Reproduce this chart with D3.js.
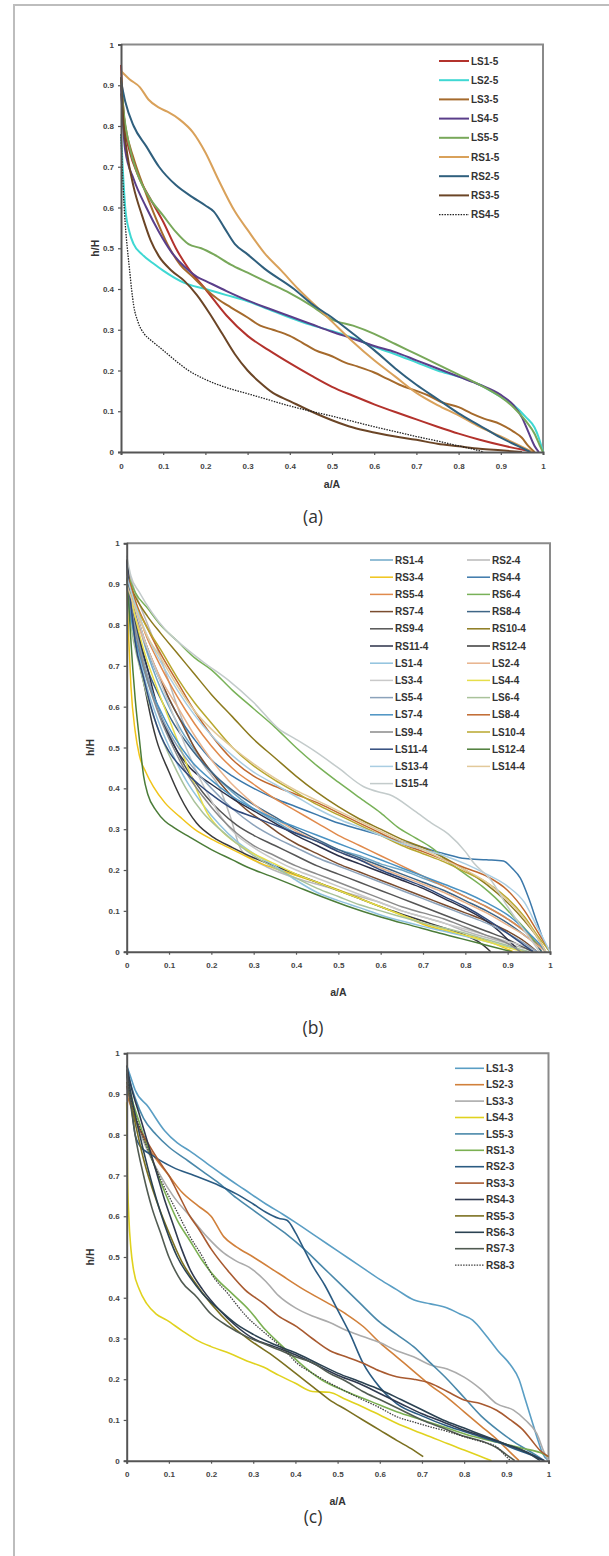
<!DOCTYPE html>
<html>
<head>
<meta charset="utf-8">
<title>h/H vs a/A</title>
<script src="https://cdn.jsdelivr.net/npm/d3@7/dist/d3.min.js"></script>
<style>
  body { margin: 0; background: #fff; }
  .tick text { font-family: "Liberation Sans", Arial, sans-serif; font-weight: bold; font-size: 8px; fill: #444; }
  .lg { font-family: "Liberation Sans", Arial, sans-serif; font-weight: bold; font-size: 10px; fill: #333; }
  .ttl { font-family: "Liberation Sans", Arial, sans-serif; font-weight: bold; font-size: 10.5px; fill: #333; }
  .cap { font-family: "Open Sans", sans-serif; font-size: 17.5px; fill: #333; }
</style>
</head>
<body>
<svg id="fig" width="609" height="1556"></svg>
<script>
// tick values shared by every panel
const xTicks = [0, 0.1, 0.2, 0.3, 0.4, 0.5, 0.6, 0.7, 0.8, 0.9, 1];
const yTicks = [0, 0.1, 0.2, 0.3, 0.4, 0.5, 0.6, 0.7, 0.8, 0.9, 1];

// ---- panel (a): five-storey series ----
const aLS1 = [[0,0.95],[0.005,0.85],[0.01,0.79],[0.02,0.74],[0.04,0.68],[0.07,0.62],[0.1,0.565],[0.13,0.5],[0.16,0.45],[0.2,0.4],[0.25,0.335],[0.3,0.285],[0.35,0.25],[0.4,0.218],[0.45,0.188],[0.5,0.16],[0.55,0.138],[0.6,0.117],[0.65,0.098],[0.7,0.08],[0.75,0.062],[0.8,0.045],[0.85,0.03],[0.9,0.017],[0.95,0.006],[0.98,0]];
const aLS2 = [[0,0.78],[0.005,0.68],[0.01,0.6],[0.02,0.54],[0.03,0.51],[0.05,0.485],[0.08,0.46],[0.1,0.445],[0.15,0.415],[0.2,0.4],[0.25,0.385],[0.3,0.37],[0.35,0.35],[0.4,0.33],[0.45,0.312],[0.5,0.297],[0.55,0.28],[0.6,0.258],[0.65,0.24],[0.7,0.22],[0.75,0.2],[0.8,0.185],[0.85,0.165],[0.9,0.135],[0.93,0.115],[0.96,0.085],[0.98,0.06],[0.99,0.035],[1,0]];
const aLS3 = [[0,0.88],[0.01,0.8],[0.03,0.72],[0.05,0.66],[0.08,0.58],[0.11,0.51],[0.14,0.46],[0.17,0.43],[0.2,0.4],[0.23,0.375],[0.26,0.355],[0.3,0.33],[0.33,0.31],[0.36,0.3],[0.4,0.285],[0.43,0.268],[0.46,0.25],[0.5,0.235],[0.53,0.22],[0.56,0.21],[0.6,0.195],[0.63,0.18],[0.66,0.165],[0.7,0.15],[0.73,0.138],[0.76,0.122],[0.8,0.11],[0.83,0.095],[0.86,0.082],[0.9,0.068],[0.93,0.05],[0.95,0.035],[0.965,0.015],[0.98,0]];
const aLS4 = [[0,0.9],[0.005,0.8],[0.01,0.74],[0.03,0.67],[0.06,0.6],[0.09,0.54],[0.12,0.49],[0.15,0.455],[0.18,0.43],[0.2,0.42],[0.25,0.395],[0.3,0.372],[0.35,0.352],[0.4,0.333],[0.45,0.314],[0.5,0.295],[0.55,0.278],[0.6,0.26],[0.65,0.245],[0.7,0.225],[0.75,0.205],[0.8,0.185],[0.85,0.165],[0.9,0.14],[0.93,0.115],[0.95,0.085],[0.965,0.05],[0.98,0.015],[0.99,0]];
const aLS5 = [[0,0.92],[0.005,0.85],[0.02,0.75],[0.04,0.68],[0.07,0.62],[0.1,0.58],[0.13,0.54],[0.16,0.51],[0.19,0.5],[0.22,0.485],[0.26,0.46],[0.3,0.44],[0.35,0.415],[0.4,0.39],[0.45,0.36],[0.5,0.325],[0.55,0.31],[0.6,0.29],[0.65,0.265],[0.7,0.24],[0.75,0.215],[0.8,0.19],[0.85,0.165],[0.9,0.135],[0.93,0.11],[0.96,0.075],[0.98,0.045],[0.995,0.01],[1,0]];
const aRS1 = [[0,0.935],[0.02,0.915],[0.045,0.895],[0.065,0.865],[0.09,0.845],[0.11,0.835],[0.14,0.815],[0.17,0.785],[0.2,0.735],[0.23,0.67],[0.27,0.59],[0.3,0.545],[0.34,0.488],[0.38,0.445],[0.42,0.4],[0.46,0.36],[0.5,0.32],[0.55,0.27],[0.6,0.225],[0.65,0.185],[0.7,0.145],[0.75,0.115],[0.8,0.09],[0.85,0.062],[0.9,0.038],[0.94,0.018],[0.975,0]];
const aRS2 = [[0,0.91],[0.01,0.86],[0.03,0.8],[0.06,0.75],[0.09,0.7],[0.13,0.655],[0.17,0.625],[0.2,0.605],[0.22,0.59],[0.245,0.55],[0.27,0.51],[0.3,0.485],[0.34,0.45],[0.41,0.4],[0.45,0.365],[0.5,0.33],[0.55,0.29],[0.6,0.25],[0.65,0.205],[0.7,0.165],[0.75,0.13],[0.8,0.095],[0.85,0.065],[0.9,0.035],[0.94,0.015],[0.97,0]];
const aRS3 = [[0,0.92],[0.005,0.82],[0.015,0.73],[0.03,0.65],[0.05,0.58],[0.07,0.52],[0.09,0.48],[0.12,0.445],[0.15,0.42],[0.18,0.385],[0.21,0.34],[0.24,0.29],[0.27,0.24],[0.3,0.2],[0.33,0.17],[0.36,0.145],[0.4,0.125],[0.45,0.1],[0.5,0.078],[0.55,0.06],[0.6,0.048],[0.65,0.038],[0.7,0.03],[0.75,0.02],[0.8,0.014],[0.85,0.008],[0.9,0.004],[0.95,0]];
const aRS4 = [[0,0.78],[0.003,0.7],[0.006,0.63],[0.01,0.56],[0.015,0.5],[0.02,0.45],[0.025,0.4],[0.03,0.36],[0.04,0.32],[0.055,0.29],[0.07,0.275],[0.09,0.258],[0.12,0.232],[0.16,0.2],[0.2,0.178],[0.25,0.158],[0.3,0.143],[0.35,0.128],[0.4,0.113],[0.45,0.1],[0.5,0.088],[0.55,0.075],[0.6,0.062],[0.65,0.05],[0.7,0.038],[0.75,0.027],[0.8,0.015],[0.83,0.008],[0.86,0]];

// ---- panel (b): four-storey series ----
const bRS1 = [[0,0.93],[0.02,0.84],[0.04,0.76],[0.07,0.67],[0.1,0.6],[0.13,0.54],[0.17,0.48],[0.21,0.43],[0.25,0.39],[0.3,0.35],[0.35,0.32],[0.4,0.29],[0.45,0.27],[0.5,0.25],[0.55,0.235],[0.6,0.215],[0.65,0.2],[0.7,0.18],[0.75,0.16],[0.8,0.135],[0.85,0.11],[0.9,0.08],[0.94,0.05],[0.97,0.02],[0.99,0]];
const bRS2 = [[0,0.95],[0.02,0.88],[0.05,0.8],[0.08,0.72],[0.1,0.66],[0.12,0.6],[0.15,0.52],[0.18,0.46],[0.22,0.4],[0.245,0.33],[0.27,0.25],[0.3,0.225],[0.33,0.208],[0.4,0.18],[0.45,0.165],[0.5,0.15],[0.55,0.135],[0.6,0.12],[0.65,0.1],[0.7,0.085],[0.75,0.07],[0.8,0.05],[0.85,0.035],[0.9,0.02],[0.95,0.005],[0.97,0]];
const bRS3 = [[0,0.9],[0.005,0.76],[0.01,0.65],[0.02,0.54],[0.03,0.48],[0.045,0.44],[0.063,0.404],[0.09,0.365],[0.126,0.33],[0.16,0.3],[0.205,0.273],[0.25,0.25],[0.283,0.233],[0.32,0.215],[0.362,0.2],[0.42,0.18],[0.48,0.159],[0.54,0.135],[0.6,0.11],[0.66,0.085],[0.717,0.061],[0.78,0.045],[0.835,0.032],[0.88,0.015],[0.913,0]];
const bRS4 = [[0,0.96],[0.01,0.88],[0.03,0.8],[0.06,0.71],[0.09,0.64],[0.12,0.58],[0.16,0.52],[0.2,0.47],[0.25,0.43],[0.3,0.4],[0.35,0.375],[0.4,0.355],[0.45,0.335],[0.5,0.315],[0.55,0.3],[0.6,0.285],[0.65,0.27],[0.7,0.255],[0.75,0.24],[0.8,0.228],[0.85,0.225],[0.89,0.222],[0.91,0.205],[0.93,0.18],[0.95,0.13],[0.97,0.07],[0.99,0.015],[1,0]];
const bRS5 = [[0,0.94],[0.02,0.86],[0.04,0.79],[0.07,0.72],[0.1,0.66],[0.14,0.59],[0.18,0.53],[0.22,0.48],[0.26,0.44],[0.3,0.41],[0.35,0.375],[0.4,0.345],[0.45,0.315],[0.5,0.285],[0.55,0.26],[0.6,0.235],[0.65,0.21],[0.7,0.185],[0.75,0.16],[0.8,0.135],[0.85,0.11],[0.9,0.08],[0.94,0.05],[0.97,0.02],[0.99,0]];
const bRS6 = [[0,0.93],[0.02,0.88],[0.05,0.84],[0.08,0.8],[0.12,0.76],[0.16,0.72],[0.2,0.69],[0.25,0.64],[0.3,0.595],[0.35,0.55],[0.4,0.5],[0.45,0.455],[0.5,0.415],[0.56,0.37],[0.6,0.34],[0.64,0.305],[0.68,0.28],[0.72,0.255],[0.76,0.22],[0.8,0.19],[0.84,0.16],[0.87,0.133],[0.91,0.09],[0.95,0.045],[0.98,0]];
const bRS7 = [[0,0.92],[0.02,0.84],[0.04,0.77],[0.07,0.69],[0.1,0.62],[0.13,0.56],[0.16,0.5],[0.2,0.44],[0.24,0.39],[0.28,0.35],[0.32,0.32],[0.36,0.29],[0.4,0.265],[0.45,0.24],[0.5,0.215],[0.55,0.195],[0.6,0.175],[0.65,0.155],[0.7,0.135],[0.75,0.115],[0.8,0.095],[0.85,0.075],[0.9,0.05],[0.94,0.025],[0.97,0]];
const bRS8 = [[0,0.95],[0.01,0.86],[0.03,0.76],[0.05,0.69],[0.08,0.62],[0.11,0.56],[0.15,0.5],[0.2,0.44],[0.25,0.395],[0.3,0.36],[0.35,0.33],[0.4,0.3],[0.45,0.275],[0.5,0.25],[0.55,0.23],[0.6,0.21],[0.65,0.19],[0.7,0.17],[0.75,0.15],[0.8,0.125],[0.85,0.1],[0.9,0.07],[0.94,0.04],[0.97,0.015],[0.98,0]];
const bRS9 = [[0,0.94],[0.01,0.85],[0.03,0.75],[0.05,0.67],[0.08,0.58],[0.11,0.51],[0.14,0.45],[0.18,0.39],[0.22,0.345],[0.26,0.31],[0.3,0.285],[0.35,0.26],[0.4,0.235],[0.45,0.21],[0.5,0.19],[0.55,0.17],[0.6,0.15],[0.65,0.13],[0.7,0.11],[0.75,0.09],[0.8,0.07],[0.85,0.05],[0.9,0.03],[0.94,0.01],[0.96,0]];
const bRS10 = [[0,0.92],[0.02,0.87],[0.05,0.82],[0.08,0.78],[0.12,0.73],[0.16,0.68],[0.2,0.63],[0.25,0.575],[0.3,0.52],[0.35,0.475],[0.4,0.43],[0.45,0.39],[0.5,0.355],[0.55,0.325],[0.6,0.3],[0.65,0.275],[0.7,0.255],[0.75,0.23],[0.8,0.2],[0.85,0.165],[0.9,0.12],[0.94,0.075],[0.97,0.035],[0.99,0]];
const bRS11 = [[0,0.96],[0.01,0.87],[0.03,0.77],[0.05,0.69],[0.07,0.61],[0.09,0.55],[0.12,0.49],[0.15,0.45],[0.2,0.41],[0.25,0.375],[0.3,0.345],[0.35,0.315],[0.4,0.285],[0.45,0.26],[0.5,0.235],[0.55,0.215],[0.6,0.195],[0.65,0.175],[0.7,0.155],[0.75,0.13],[0.8,0.105],[0.85,0.075],[0.88,0.05],[0.9,0.03],[0.93,0]];
const bRS12 = [[0,0.96],[0.01,0.85],[0.02,0.76],[0.04,0.66],[0.06,0.56],[0.07,0.52],[0.1,0.44],[0.126,0.38],[0.165,0.315],[0.205,0.28],[0.25,0.255],[0.3,0.23],[0.35,0.21],[0.4,0.19],[0.45,0.17],[0.5,0.15],[0.55,0.13],[0.6,0.11],[0.65,0.092],[0.7,0.075],[0.75,0.058],[0.8,0.04],[0.83,0.025],[0.86,0]];
const bLS1 = [[0,0.91],[0.01,0.82],[0.03,0.72],[0.05,0.64],[0.08,0.55],[0.11,0.48],[0.14,0.42],[0.18,0.36],[0.22,0.31],[0.26,0.27],[0.3,0.24],[0.35,0.21],[0.4,0.175],[0.45,0.145],[0.5,0.125],[0.55,0.108],[0.6,0.09],[0.65,0.075],[0.7,0.062],[0.75,0.05],[0.8,0.038],[0.85,0.025],[0.9,0.012],[0.95,0]];
const bLS2 = [[0,0.9],[0.02,0.82],[0.05,0.74],[0.08,0.67],[0.12,0.6],[0.16,0.53],[0.2,0.47],[0.24,0.42],[0.28,0.38],[0.32,0.345],[0.36,0.32],[0.4,0.295],[0.45,0.27],[0.5,0.245],[0.55,0.225],[0.6,0.205],[0.65,0.185],[0.7,0.165],[0.75,0.145],[0.8,0.12],[0.85,0.095],[0.9,0.065],[0.94,0.04],[0.97,0.015],[0.99,0]];
const bLS3 = [[0,0.93],[0.02,0.84],[0.05,0.74],[0.08,0.66],[0.11,0.58],[0.14,0.5],[0.17,0.43],[0.2,0.37],[0.23,0.32],[0.26,0.285],[0.3,0.255],[0.35,0.225],[0.4,0.2],[0.45,0.18],[0.5,0.16],[0.55,0.14],[0.6,0.12],[0.65,0.1],[0.7,0.085],[0.75,0.07],[0.8,0.055],[0.85,0.04],[0.9,0.025],[0.95,0.01],[0.97,0]];
const bLS4 = [[0,0.92],[0.02,0.82],[0.04,0.74],[0.07,0.65],[0.1,0.57],[0.13,0.49],[0.16,0.41],[0.19,0.34],[0.22,0.3],[0.26,0.265],[0.3,0.24],[0.35,0.215],[0.4,0.19],[0.45,0.17],[0.5,0.15],[0.55,0.13],[0.6,0.11],[0.65,0.09],[0.7,0.07],[0.75,0.055],[0.8,0.04],[0.85,0.025],[0.9,0.01],[0.94,0]];
const bLS5 = [[0,0.94],[0.01,0.85],[0.03,0.75],[0.05,0.67],[0.08,0.58],[0.11,0.52],[0.15,0.46],[0.2,0.4],[0.25,0.35],[0.3,0.31],[0.35,0.28],[0.4,0.255],[0.45,0.23],[0.5,0.21],[0.55,0.19],[0.6,0.17],[0.65,0.15],[0.7,0.13],[0.75,0.11],[0.8,0.09],[0.85,0.07],[0.9,0.045],[0.94,0.02],[0.97,0]];
const bLS6 = [[0,0.9],[0.01,0.8],[0.03,0.7],[0.05,0.62],[0.08,0.53],[0.11,0.46],[0.14,0.4],[0.18,0.34],[0.22,0.3],[0.26,0.265],[0.3,0.235],[0.35,0.205],[0.4,0.18],[0.45,0.155],[0.5,0.135],[0.55,0.115],[0.6,0.1],[0.65,0.085],[0.7,0.07],[0.75,0.058],[0.8,0.045],[0.85,0.03],[0.9,0.015],[0.95,0]];
const bLS7 = [[0,0.9],[0.01,0.82],[0.03,0.73],[0.05,0.66],[0.08,0.59],[0.11,0.53],[0.15,0.47],[0.2,0.42],[0.25,0.38],[0.3,0.35],[0.35,0.325],[0.4,0.305],[0.45,0.285],[0.5,0.265],[0.55,0.245],[0.6,0.225],[0.65,0.205],[0.7,0.185],[0.75,0.165],[0.8,0.145],[0.85,0.12],[0.9,0.09],[0.94,0.055],[0.97,0.025],[0.99,0]];
const bLS8 = [[0,0.93],[0.02,0.86],[0.05,0.79],[0.08,0.73],[0.12,0.66],[0.16,0.59],[0.2,0.53],[0.25,0.47],[0.3,0.43],[0.35,0.405],[0.4,0.385],[0.45,0.365],[0.5,0.34],[0.55,0.315],[0.6,0.29],[0.65,0.265],[0.7,0.245],[0.75,0.225],[0.8,0.205],[0.85,0.185],[0.9,0.15],[0.94,0.1],[0.97,0.05],[1,0]];
const bLS9 = [[0,0.93],[0.01,0.84],[0.03,0.74],[0.05,0.66],[0.08,0.57],[0.11,0.5],[0.14,0.44],[0.18,0.38],[0.22,0.33],[0.26,0.29],[0.3,0.26],[0.35,0.235],[0.4,0.21],[0.45,0.19],[0.5,0.17],[0.55,0.15],[0.6,0.13],[0.65,0.11],[0.7,0.095],[0.75,0.08],[0.8,0.06],[0.85,0.04],[0.9,0.02],[0.93,0]];
const bLS10 = [[0,0.9],[0.02,0.85],[0.05,0.79],[0.08,0.74],[0.12,0.67],[0.16,0.61],[0.2,0.56],[0.25,0.5],[0.3,0.455],[0.35,0.42],[0.4,0.39],[0.45,0.36],[0.5,0.335],[0.55,0.31],[0.6,0.285],[0.65,0.26],[0.7,0.24],[0.75,0.22],[0.8,0.195],[0.85,0.17],[0.9,0.13],[0.94,0.085],[0.97,0.04],[1,0]];
const bLS11 = [[0,0.95],[0.01,0.85],[0.02,0.76],[0.04,0.67],[0.06,0.59],[0.08,0.53],[0.1,0.49],[0.13,0.45],[0.17,0.41],[0.2,0.385],[0.25,0.35],[0.3,0.33],[0.35,0.31],[0.4,0.29],[0.45,0.27],[0.5,0.245],[0.55,0.225],[0.6,0.2],[0.65,0.18],[0.7,0.16],[0.75,0.135],[0.8,0.11],[0.85,0.08],[0.9,0.045],[0.94,0.015],[0.96,0]];
const bLS12 = [[0,0.92],[0.005,0.85],[0.01,0.76],[0.02,0.62],[0.03,0.52],[0.04,0.43],[0.05,0.385],[0.07,0.345],[0.09,0.32],[0.11,0.305],[0.15,0.28],[0.2,0.25],[0.25,0.225],[0.283,0.208],[0.34,0.185],[0.4,0.16],[0.46,0.135],[0.52,0.112],[0.6,0.085],[0.68,0.062],[0.74,0.045],[0.79,0.032],[0.85,0.016],[0.91,0]];
const bLS13 = [[0,0.92],[0.02,0.85],[0.05,0.77],[0.08,0.71],[0.12,0.64],[0.16,0.58],[0.2,0.53],[0.25,0.48],[0.3,0.44],[0.35,0.41],[0.4,0.38],[0.45,0.35],[0.5,0.325],[0.55,0.305],[0.6,0.285],[0.65,0.265],[0.7,0.25],[0.75,0.235],[0.8,0.215],[0.85,0.19],[0.9,0.16],[0.94,0.12],[0.97,0.06],[1,0]];
const bLS14 = [[0,0.9],[0.02,0.84],[0.05,0.77],[0.08,0.72],[0.12,0.65],[0.16,0.59],[0.2,0.545],[0.25,0.5],[0.3,0.46],[0.35,0.425],[0.4,0.395],[0.45,0.37],[0.5,0.345],[0.55,0.32],[0.6,0.295],[0.65,0.27],[0.7,0.25],[0.75,0.225],[0.8,0.2],[0.85,0.17],[0.9,0.125],[0.94,0.08],[0.97,0.035],[0.99,0]];
const bLS15 = [[0,0.97],[0.01,0.92],[0.03,0.88],[0.06,0.83],[0.09,0.79],[0.126,0.755],[0.18,0.71],[0.24,0.665],[0.3,0.61],[0.36,0.545],[0.4,0.52],[0.44,0.494],[0.5,0.45],[0.56,0.404],[0.6,0.39],[0.62,0.385],[0.68,0.345],[0.72,0.315],[0.76,0.288],[0.8,0.245],[0.82,0.217],[0.86,0.176],[0.9,0.11],[0.93,0.065],[0.95,0.037],[0.975,0]];

// ---- panel (c): three-storey series ----
const cLS1 = [[0,0.97],[0.01,0.94],[0.02,0.91],[0.05,0.87],[0.09,0.81],[0.12,0.78],[0.15,0.76],[0.19,0.73],[0.23,0.7],[0.28,0.665],[0.33,0.63],[0.37,0.605],[0.4,0.585],[0.45,0.55],[0.5,0.515],[0.55,0.48],[0.6,0.445],[0.64,0.42],[0.68,0.395],[0.72,0.385],[0.76,0.375],[0.79,0.36],[0.82,0.345],[0.85,0.31],[0.88,0.27],[0.91,0.235],[0.93,0.2],[0.945,0.15],[0.96,0.1],[0.975,0.05],[0.985,0.02],[1,0]];
const cLS2 = [[0,0.9],[0.02,0.84],[0.04,0.79],[0.07,0.74],[0.1,0.7],[0.13,0.66],[0.17,0.625],[0.2,0.6],[0.23,0.55],[0.26,0.525],[0.3,0.5],[0.36,0.46],[0.42,0.42],[0.48,0.385],[0.52,0.36],[0.56,0.33],[0.6,0.29],[0.64,0.255],[0.68,0.22],[0.72,0.185],[0.76,0.155],[0.8,0.12],[0.84,0.085],[0.88,0.05],[0.91,0.02],[0.93,0]];
const cLS3 = [[0,0.92],[0.02,0.84],[0.05,0.76],[0.08,0.7],[0.11,0.65],[0.15,0.6],[0.19,0.55],[0.23,0.51],[0.26,0.49],[0.29,0.475],[0.33,0.44],[0.36,0.405],[0.4,0.375],[0.44,0.355],[0.48,0.34],[0.52,0.32],[0.56,0.305],[0.6,0.29],[0.64,0.27],[0.68,0.255],[0.72,0.235],[0.76,0.225],[0.8,0.205],[0.84,0.175],[0.877,0.14],[0.917,0.124],[0.945,0.1],[0.972,0.067],[0.99,0.02],[1,0]];
const cLS4 = [[0,0.88],[0.002,0.7],[0.005,0.6],[0.01,0.52],[0.016,0.47],[0.03,0.42],[0.047,0.386],[0.07,0.36],[0.095,0.345],[0.13,0.32],[0.166,0.296],[0.2,0.28],[0.245,0.263],[0.285,0.245],[0.324,0.23],[0.36,0.21],[0.4,0.19],[0.44,0.17],[0.48,0.168],[0.52,0.15],[0.56,0.132],[0.6,0.112],[0.64,0.092],[0.68,0.075],[0.72,0.059],[0.76,0.042],[0.8,0.026],[0.835,0.012],[0.865,0]];
const cLS5 = [[0,0.96],[0.02,0.89],[0.04,0.84],[0.07,0.8],[0.1,0.77],[0.14,0.74],[0.18,0.71],[0.22,0.68],[0.26,0.645],[0.3,0.615],[0.34,0.585],[0.38,0.555],[0.42,0.52],[0.46,0.48],[0.5,0.44],[0.55,0.39],[0.6,0.34],[0.64,0.31],[0.68,0.28],[0.72,0.24],[0.76,0.2],[0.8,0.155],[0.84,0.11],[0.88,0.075],[0.92,0.045],[0.96,0.02],[0.99,0]];
const cRS1 = [[0,0.96],[0.01,0.9],[0.03,0.83],[0.06,0.74],[0.09,0.66],[0.12,0.59],[0.15,0.54],[0.18,0.49],[0.21,0.45],[0.25,0.41],[0.29,0.37],[0.33,0.32],[0.37,0.28],[0.41,0.24],[0.46,0.2],[0.52,0.17],[0.58,0.145],[0.64,0.12],[0.7,0.1],[0.76,0.08],[0.82,0.06],[0.88,0.045],[0.94,0.03],[0.98,0.02],[1,0.01]];
const cRS2 = [[0,0.95],[0.01,0.88],[0.02,0.8],[0.03,0.775],[0.06,0.75],[0.11,0.72],[0.16,0.7],[0.22,0.675],[0.26,0.655],[0.3,0.63],[0.33,0.61],[0.36,0.595],[0.38,0.59],[0.4,0.56],[0.42,0.52],[0.44,0.48],[0.47,0.43],[0.5,0.37],[0.53,0.31],[0.56,0.24],[0.6,0.18],[0.64,0.14],[0.7,0.11],[0.76,0.085],[0.82,0.065],[0.88,0.045],[0.93,0.025],[0.97,0.01],[0.99,0]];
const cRS3 = [[0,0.92],[0.02,0.84],[0.05,0.78],[0.08,0.73],[0.1,0.7],[0.12,0.66],[0.15,0.6],[0.17,0.57],[0.2,0.52],[0.245,0.46],[0.28,0.42],[0.324,0.386],[0.36,0.355],[0.403,0.329],[0.44,0.3],[0.482,0.27],[0.52,0.255],[0.561,0.239],[0.6,0.22],[0.64,0.206],[0.68,0.2],[0.72,0.19],[0.76,0.17],[0.8,0.149],[0.84,0.14],[0.877,0.124],[0.91,0.1],[0.94,0.075],[0.96,0.05],[0.98,0.025],[1,0.01]];
const cRS4 = [[0,0.97],[0.01,0.92],[0.03,0.85],[0.05,0.78],[0.07,0.71],[0.09,0.64],[0.11,0.58],[0.13,0.52],[0.15,0.47],[0.18,0.42],[0.22,0.37],[0.26,0.33],[0.3,0.3],[0.35,0.28],[0.4,0.26],[0.45,0.235],[0.5,0.21],[0.55,0.19],[0.6,0.165],[0.65,0.14],[0.7,0.115],[0.75,0.095],[0.8,0.075],[0.85,0.058],[0.9,0.04],[0.95,0.02],[0.98,0.005],[0.99,0]];
const cRS5 = [[0,0.93],[0.02,0.83],[0.04,0.74],[0.07,0.64],[0.1,0.56],[0.13,0.49],[0.16,0.44],[0.2,0.385],[0.25,0.33],[0.3,0.29],[0.35,0.255],[0.4,0.215],[0.443,0.18],[0.48,0.15],[0.522,0.124],[0.56,0.1],[0.6,0.075],[0.64,0.05],[0.68,0.026],[0.703,0.01]];
const cRS6 = [[0,0.96],[0.01,0.9],[0.02,0.85],[0.04,0.76],[0.06,0.68],[0.08,0.61],[0.1,0.55],[0.12,0.5],[0.15,0.45],[0.18,0.41],[0.22,0.37],[0.26,0.335],[0.3,0.31],[0.35,0.285],[0.4,0.265],[0.45,0.24],[0.5,0.215],[0.55,0.195],[0.6,0.175],[0.65,0.15],[0.7,0.125],[0.75,0.1],[0.8,0.08],[0.85,0.06],[0.9,0.04],[0.95,0.02],[0.98,0]];
const cRS7 = [[0,0.95],[0.01,0.87],[0.02,0.8],[0.04,0.7],[0.06,0.62],[0.08,0.56],[0.1,0.5],[0.13,0.44],[0.166,0.402],[0.2,0.36],[0.24,0.33],[0.285,0.304],[0.33,0.285],[0.364,0.271],[0.4,0.255],[0.443,0.239],[0.48,0.215],[0.52,0.195],[0.56,0.17],[0.6,0.15],[0.65,0.125],[0.7,0.1],[0.75,0.08],[0.8,0.06],[0.85,0.045],[0.88,0.03],[0.9,0.015],[0.92,0]];
const cRS8 = [[0,0.95],[0.01,0.89],[0.03,0.82],[0.06,0.74],[0.09,0.67],[0.12,0.61],[0.15,0.55],[0.18,0.5],[0.2,0.46],[0.24,0.41],[0.285,0.353],[0.32,0.32],[0.348,0.296],[0.38,0.265],[0.403,0.24],[0.44,0.215],[0.482,0.19],[0.52,0.17],[0.561,0.149],[0.6,0.13],[0.64,0.108],[0.68,0.095],[0.72,0.083],[0.76,0.072],[0.8,0.059],[0.84,0.047],[0.877,0.034],[0.895,0.015],[0.91,0]];

// series lists: [legend name, data]
const seriesA = [["LS1-5",aLS1],["LS2-5",aLS2],["LS3-5",aLS3],["LS4-5",aLS4],["LS5-5",aLS5],["RS1-5",aRS1],["RS2-5",aRS2],["RS3-5",aRS3],["RS4-5",aRS4]];
const seriesB = [["RS1-4",bRS1],["RS2-4",bRS2],["RS3-4",bRS3],["RS4-4",bRS4],["RS5-4",bRS5],["RS6-4",bRS6],["RS7-4",bRS7],["RS8-4",bRS8],["RS9-4",bRS9],["RS10-4",bRS10],["RS11-4",bRS11],["RS12-4",bRS12],
  ["LS1-4",bLS1],["LS2-4",bLS2],["LS3-4",bLS3],["LS4-4",bLS4],["LS5-4",bLS5],["LS6-4",bLS6],["LS7-4",bLS7],["LS8-4",bLS8],["LS9-4",bLS9],["LS10-4",bLS10],["LS11-4",bLS11],["LS12-4",bLS12],["LS13-4",bLS13],["LS14-4",bLS14],["LS15-4",bLS15]];
const seriesC = [["LS1-3",cLS1],["LS2-3",cLS2],["LS3-3",cLS3],["LS4-3",cLS4],["LS5-3",cLS5],["RS1-3",cRS1],["RS2-3",cRS2],["RS3-3",cRS3],["RS4-3",cRS4],["RS5-3",cRS5],["RS6-3",cRS6],["RS7-3",cRS7],["RS8-3",cRS8]];

// line colours (style, kept apart from the values)
const colorsA = ["#b3322c","#3fd8d3","#a56a2c","#5a3e8a","#78a85a","#d9a15a","#2f5f7d","#6b4526","#222"];
const colorsB = ["#6fa8c8","#b9b9b9","#f0c419","#3b78aa","#e08a4c","#78b158","#7a4c2e","#3f6686","#555","#8c7a1e","#2b3048","#3a3a3a",
  "#90c2de","#e8b38c","#c9c9c9","#e6de4a","#8ba2ba","#a9c29a","#4a92c2","#c0682e","#8a8a8a","#b8a72e","#304a7c","#4b7c38","#a9cde2","#e2c99a","#c3cbcb"];
const colorsC = ["#5a9ec4","#d1803b","#ababab","#e0d21e","#4a88aa","#7bb052","#2b5b82","#a85a30","#303a50","#7b7020","#2b4252","#515b52","#404040"];

const svg = d3.select("#fig");

// outer page frame
svg.append("path")
  .attr("d", "M14,1556 L14,5 L609,5")
  .attr("fill", "none").attr("stroke", "#bdbdbd").attr("stroke-width", 2);

const panels = [
  { series: seriesA, colors: colorsA, dotted: "RS4-5", x0: 121, x1: 543, yT: 44.5, yB: 452, lw: 2,
    lg: { x: 439, len: 30, y: 61, dy: 19.2, cols: 1, cw: 0 }, xt: 32, yt: 26, cap: "(a)", capY: 523 },
  { series: seriesB, colors: colorsB, dotted: null, x0: 126.7, x1: 550, yT: 543.3, yB: 951.7, lw: 1.5,
    lg: { x: 370, len: 23, y: 560, dy: 17.2, cols: 2, cw: 97 }, xt: 40, yt: 37, cap: "(b)", capY: 1034 },
  { series: seriesC, colors: colorsC, dotted: "RS8-3", x0: 126.7, x1: 548.5, yT: 1053.3, yB: 1460.7, lw: 1.6,
    lg: { x: 455, len: 29, y: 1068.3, dy: 16.4, cols: 1, cw: 0 }, xt: 40, yt: 37, cap: "(c)", capY: 1523 }
];

panels.forEach(p => {
  const x = d3.scaleLinear().domain([0, 1]).range([p.x0, p.x1]);
  const y = d3.scaleLinear().domain([0, 1]).range([p.yB, p.yT]);
  const g = svg.append("g");

  // plot-area border (top and right)
  g.append("path")
    .attr("d", `M${p.x0},${p.yT} L${p.x1},${p.yT} L${p.x1},${p.yB}`)
    .attr("fill", "none").attr("stroke", "#8a8a8a").attr("stroke-width", 2);

  const line = d3.line().x(d => x(d[0])).y(d => y(d[1])).curve(d3.curveMonotoneX);

  g.selectAll("path.series")
    .data(p.series)
    .join("path")
    .attr("class", "series")
    .attr("d", d => line(d[1]))
    .attr("fill", "none")
    .attr("stroke", (d, i) => p.colors[i])
    .attr("stroke-width", d => d[0] === p.dotted ? 1.3 : p.lw)
    .attr("stroke-dasharray", d => d[0] === p.dotted ? "1.5,1.2" : null)
    .attr("stroke-linejoin", "round");

  // axes
  const xAxis = d3.axisBottom(x).tickValues(xTicks).tickFormat(d => String(d)).tickSize(3).tickPadding(8);
  const yAxis = d3.axisLeft(y).tickValues(yTicks).tickFormat(d => String(d)).tickSize(3).tickPadding(4);
  const gx = g.append("g").attr("transform", `translate(0,${p.yB})`).call(xAxis);
  const gy = g.append("g").attr("transform", `translate(${p.x0},0)`).call(yAxis);
  [gx, gy].forEach(a => {
    a.select(".domain").attr("stroke", "#555").attr("stroke-width", 2);
    a.selectAll(".tick line").attr("stroke", "#555").attr("stroke-width", 1.2);
  });

  // axis titles
  g.append("text").attr("class", "ttl")
    .attr("x", (p.x0 + p.x1) / 2).attr("y", p.yB + p.xt + 4)
    .attr("text-anchor", "middle").text("a/A");
  g.append("text").attr("class", "ttl")
    .attr("transform", `translate(${p.x0 - p.yt + 4},${(p.yT + p.yB) / 2}) rotate(-90)`)
    .attr("text-anchor", "middle").text("h/H");

  // legend
  const lg = g.append("g");
  p.series.forEach((s, i) => {
    const col = i % p.lg.cols, row = Math.floor(i / p.lg.cols);
    const lx = p.lg.x + col * p.lg.cw, ly = p.lg.y + row * p.lg.dy;
    lg.append("line")
      .attr("x1", lx).attr("x2", lx + p.lg.len).attr("y1", ly).attr("y2", ly)
      .attr("stroke", p.colors[i])
      .attr("stroke-width", s[0] === p.dotted ? 1.3 : p.lw)
      .attr("stroke-dasharray", s[0] === p.dotted ? "1.5,1.2" : null);
    lg.append("text").attr("class", "lg")
      .attr("x", lx + p.lg.len + 2).attr("y", ly + 3.6).text(s[0]);
  });

  // caption
  svg.append("text").attr("class", "cap")
    .attr("x", 313).attr("y", p.capY).attr("text-anchor", "middle").text(p.cap);
});
</script>
</body>
</html>
